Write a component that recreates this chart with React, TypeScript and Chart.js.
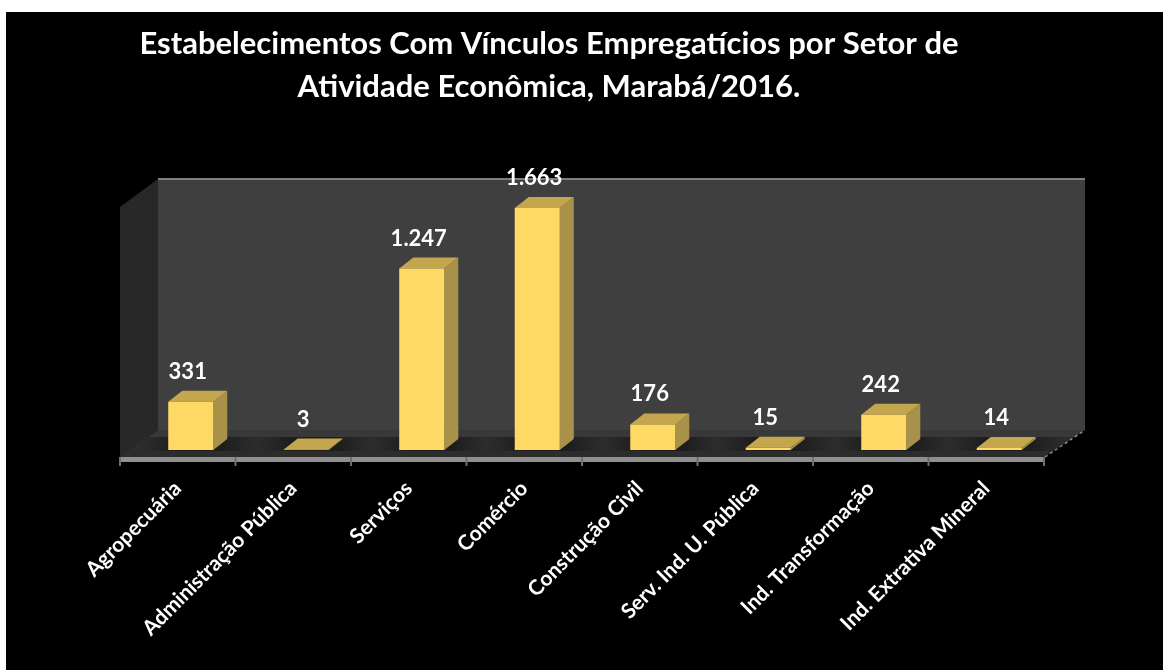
import React, { useEffect, useRef } from "react";
import { Chart, registerables } from "chart.js";

Chart.register(...registerables);

const titleLines = [
  "Estabelecimentos Com Vínculos Empregatícios por Setor de",
  "Atividade Econômica, Marabá/2016.",
];
const categories = [
  "Agropecuária",
  "Administração Pública",
  "Serviços",
  "Comércio",
  "Construção Civil",
  "Serv. Ind. U. Pública",
  "Ind. Transformação",
  "Ind. Extrativa Mineral",
];
const values = [331, 3, 1247, 1663, 176, 15, 242, 14];

const W = 1157;
const H = 658;
const FONT = "Lato, Carlito, Calibri, sans-serif";
const fmt = (v: number) => String(v).replace(/\B(?=(\d{3})+$)/g, ".");

const scene = {
  id: "scene",
  afterLayout(chart: any) {
    // the title is centred on the picture of the chart, not on the plot
    if (chart.titleBlock) {
      chart.titleBlock.left = 0;
      chart.titleBlock.right = 1086;
    }
  },
  beforeDatasetsDraw(chart: any) {
    const { ctx, chartArea, scales } = chart;
    const base = scales.y.getPixelForValue(0);
    const fl = chartArea.left - 13; // front-left
    const fr = chartArea.right - 13; // front-right
    const dx = 38;
    const top = base - 271;
    const floorFront = base + 7;
    const floorBack = base - 20;
    const sideTop = top + 28;

    ctx.save();
    // back wall
    ctx.fillStyle = "#3f3f3f";
    ctx.fillRect(fl + dx, top, fr - fl + 3, floorBack - top);
    ctx.fillStyle = "#7f7f7f";
    ctx.fillRect(fl + dx, top - 1, fr - fl + 3, 2);
    // side wall
    ctx.fillStyle = "#282828";
    ctx.beginPath();
    ctx.moveTo(fl, sideTop);
    ctx.lineTo(fl + dx, top);
    ctx.lineTo(fl + dx, floorBack);
    ctx.lineTo(fl, floorFront);
    ctx.closePath();
    ctx.fill();
    // floor
    ctx.fillStyle = "#383838";
    ctx.beginPath();
    ctx.moveTo(fl, floorFront);
    ctx.lineTo(fl + dx, floorBack);
    ctx.lineTo(fr + dx + 3, floorBack);
    ctx.lineTo(fr, floorFront);
    ctx.closePath();
    ctx.fill();
    ctx.fillStyle = "#2c2c2c";
    ctx.beginPath();
    ctx.moveTo(fl, floorFront);
    ctx.lineTo(fl + 26, floorBack + 7);
    ctx.lineTo(fr + 30, floorBack + 7);
    ctx.lineTo(fr, floorFront);
    ctx.closePath();
    ctx.fill();
    // front axis band and ticks
    ctx.fillStyle = "#8f8f8f";
    ctx.fillRect(fl - 1, floorFront, fr - fl + 2, 5);
    ctx.fillStyle = "#6e6e6e";
    for (let i = 0; i <= categories.length; i++) {
      const x = fl + ((fr - fl) * i) / categories.length;
      ctx.fillRect(x - 1, floorFront, 2, 9);
    }
    // right edge of the floor
    ctx.strokeStyle = "#8f8f8f";
    ctx.lineWidth = 1.5;
    ctx.setLineDash([3, 3]);
    ctx.beginPath();
    ctx.moveTo(fr + 1, floorFront);
    ctx.lineTo(fr + dx + 3, floorBack);
    ctx.stroke();
    ctx.setLineDash([]);

    // bar shadows, tops and sides
    const bars = chart.getDatasetMeta(0).data;
    bars.forEach((b: any) => {
      const x0 = b.x - b.width / 2;
      const x1 = b.x + b.width / 2;
      const g = ctx.createLinearGradient(x0 - 28, 0, x1 + 44, 0);
      g.addColorStop(0, "rgba(34,34,34,0)");
      g.addColorStop(0.3, "rgba(28,28,28,0.95)");
      g.addColorStop(0.7, "rgba(28,28,28,0.95)");
      g.addColorStop(1, "rgba(34,34,34,0)");
      ctx.fillStyle = g;
      ctx.fillRect(x0 - 28, base - 13, x1 - x0 + 72, 14);

      const ox = 14;
      const oy = 11;
      ctx.fillStyle = "#A8924A";
      ctx.beginPath();
      ctx.moveTo(x1, b.y);
      ctx.lineTo(x1 + ox, b.y - oy);
      ctx.lineTo(x1 + ox, b.base - oy);
      ctx.lineTo(x1, b.base);
      ctx.closePath();
      ctx.fill();
      ctx.fillStyle = "#C4A64E";
      ctx.beginPath();
      ctx.moveTo(x0, b.y);
      ctx.lineTo(x1, b.y);
      ctx.lineTo(x1 + ox, b.y - oy);
      ctx.lineTo(x0 + ox, b.y - oy);
      ctx.closePath();
      ctx.fill();
    });
    ctx.restore();
  },
  afterDatasetsDraw(chart: any) {
    const { ctx } = chart;
    ctx.save();
    ctx.font = `bold 22px ${FONT}`;
    ctx.fillStyle = "#ffffff";
    ctx.textAlign = "center";
    ctx.textBaseline = "middle";
    chart.getDatasetMeta(0).data.forEach((b: any, i: number) => {
      ctx.fillText(fmt(values[i]), b.x - 3, b.y - 30);
    });
    ctx.restore();
  },
};

export default function App() {
  const ref = useRef<HTMLCanvasElement>(null);
  useEffect(() => {
    document.body.style.background = "#ffffff";
    const chart = new Chart(ref.current!, {
      type: "bar",
      data: {
        labels: categories,
        datasets: [
          {
            data: values,
            backgroundColor: "#FFD966",
            borderWidth: 0,
            categoryPercentage: 1,
            barPercentage: 0.39,
          },
        ],
      },
      options: {
        animation: false,
        responsive: false,
        layout: { padding: { left: 127, right: 106, top: 0, bottom: 0 } },
        plugins: {
          legend: { display: false },
          tooltip: { enabled: false },
          title: {
            display: true,
            text: titleLines,
            color: "#ffffff",
            font: { family: FONT, size: 31, weight: "bold", lineHeight: 1.39 },
            padding: { top: 10, bottom: 80 },
          },
        },
        scales: {
          x: {
            grid: { display: false },
            border: { display: false },
            afterFit: (s: any) => {
              s.height = 220;
            },
            ticks: {
              color: "#ffffff",
              font: { family: FONT, size: 21, weight: "bold" },
              autoSkip: false,
              minRotation: 45,
              maxRotation: 45,
              padding: 18,
              labelOffset: -13,
            },
          },
          y: { display: false, min: 0, max: 1800 },
        },
      },
      plugins: [scene],
    } as any);
    return () => chart.destroy();
  }, []);
  return (
    <canvas
      ref={ref}
      width={W}
      height={H}
      style={{ position: "absolute", left: 6, top: 12, width: W, height: H, background: "#000000", display: "block" }}
    />
  );
}
